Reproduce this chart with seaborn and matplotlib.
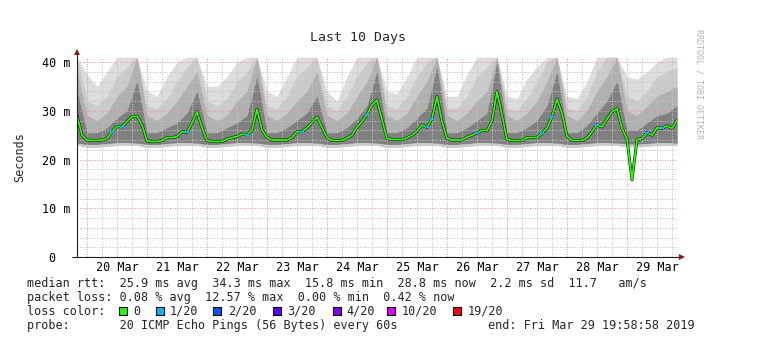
import numpy as np
import pandas as pd
import matplotlib
matplotlib.use("Agg")
import matplotlib.pyplot as plt
import matplotlib.dates as mdates
from matplotlib.ticker import FixedLocator, MultipleLocator, FuncFormatter
from matplotlib.patches import Rectangle
import seaborn as sns

# ---------------- data ----------------
start = pd.Timestamp("2019-03-19 19:58:58")
end = pd.Timestamp("2019-03-29 19:58:58")

# median rtt (ms), one value every 2 hours
median_ms = [
    29.0, 25.0, 24.0, 23.9, 23.9, 24.0, 24.3, 25.7, 26.8, 26.7, 27.8, 28.8,
    28.9, 27.1, 23.8, 23.7, 23.7, 23.9, 24.5, 24.5, 24.7, 25.7, 25.6, 27.5,
    29.8, 26.5, 23.9, 23.7, 23.7, 23.7, 24.2, 24.5, 24.7, 25.2, 25.1, 26.0,
    30.3, 26.0, 24.5, 24.0, 24.0, 24.0, 24.0, 24.5, 25.7, 25.7, 26.5, 27.6,
    28.7, 26.6, 24.5, 23.9, 23.9, 23.9, 24.4, 25.0, 26.6, 27.8, 29.2, 31.2,
    32.2, 28.1, 24.3, 24.1, 24.1, 24.1, 24.4, 25.0, 25.8, 27.1, 26.6, 28.4,
    32.9, 27.8, 24.3, 24.0, 24.0, 24.0, 24.6, 25.0, 25.4, 26.0, 25.9, 27.9,
    33.9, 29.1, 24.1, 23.9, 23.9, 23.9, 24.5, 24.5, 24.5, 25.4, 26.4, 28.8,
    32.4, 29.5, 24.8, 23.9, 23.9, 23.9, 24.4, 25.7, 27.1, 26.7, 28.3, 29.8,
    30.4, 26.4, 24.2, 15.8, 24.1, 24.3, 25.5, 25.0, 26.5, 26.4, 26.9, 26.4,
    28.0,
]
# lost pings (out of 20) for each median sample
loss_pings = [
    0, 0, 0, 0, 0, 0, 0, 1, 0, 1, 0, 0,
    0, 0, 0, 0, 0, 0, 0, 0, 0, 0, 1, 0,
    0, 0, 0, 0, 0, 0, 0, 0, 0, 0, 1, 0,
    0, 0, 0, 0, 0, 0, 0, 0, 0, 1, 0, 0,
    0, 0, 0, 0, 0, 0, 0, 0, 0, 0, 1, 0,
    0, 0, 0, 0, 0, 0, 0, 0, 0, 0, 1, 1,
    0, 0, 0, 0, 0, 0, 0, 0, 1, 0, 0, 0,
    0, 0, 0, 0, 0, 0, 0, 0, 0, 1, 0, 1,
    0, 0, 0, 0, 0, 0, 0, 0, 1, 0, 0, 0,
    0, 0, 0, 0, 0, 0, 1, 0, 0, 1, 0, 0,
    0,
]

# smoke (ping distribution), one value every 4 hours
smoke_min = [
    22.9, 22.5, 22.5, 22.7, 22.9, 22.9,
    22.9, 22.5, 22.5, 22.7, 22.9, 22.9,
    22.9, 22.5, 22.5, 22.7, 22.9, 22.9,
    22.9, 22.5, 22.5, 22.7, 22.9, 22.9,
    22.9, 22.5, 22.5, 22.7, 22.9, 22.9,
    22.9, 22.5, 22.5, 22.7, 22.9, 22.9,
    22.9, 22.5, 22.5, 22.7, 22.9, 22.9,
    22.9, 22.5, 22.5, 22.7, 22.9, 22.9,
    22.9, 22.5, 22.5, 22.7, 22.9, 22.9,
    22.9, 22.6, 22.6, 22.7, 22.9, 22.9,
    22.9,
]
smoke_low = [
    23.4, 23.1, 23.1, 23.3, 23.5, 23.5,
    23.4, 23.1, 23.1, 23.3, 23.5, 23.5,
    23.4, 23.1, 23.1, 23.3, 23.5, 23.5,
    23.4, 23.1, 23.1, 23.3, 23.5, 23.5,
    23.4, 23.1, 23.1, 23.3, 23.5, 23.5,
    23.4, 23.1, 23.1, 23.3, 23.5, 23.5,
    23.4, 23.1, 23.1, 23.3, 23.5, 23.5,
    23.4, 23.1, 23.1, 23.3, 23.5, 23.5,
    23.4, 23.1, 23.1, 23.3, 23.5, 23.5,
    23.4, 23.2, 23.2, 23.3, 23.5, 23.5,
    23.4,
]
smoke_p70 = [
    34, 25.5, 25.5, 26.5, 28.5, 30,
    36, 25.5, 25.5, 26.5, 27.5, 29.5,
    34, 25.5, 25.5, 26.5, 27.5, 29,
    37, 25.5, 25.5, 26.5, 28, 29.5,
    33, 25.5, 25.5, 26.5, 28.5, 31,
    38, 25.5, 25.5, 26.5, 28.5, 30.5,
    39, 25.5, 25.5, 26.5, 28, 29.5,
    40, 25.5, 25.5, 26.5, 28, 31,
    38, 25.5, 25.5, 27, 29.5, 32,
    36, 26, 26, 27.5, 29, 29.5,
    31,
]
smoke_p85 = [
    38, 29, 28, 29.5, 33, 35,
    41, 29, 28, 29.5, 32, 35,
    38, 29, 28, 29, 32, 34,
    41, 29, 28, 29.5, 32, 34,
    38, 29, 28, 29.5, 33, 36,
    41, 29, 28, 29.5, 33, 36,
    41, 29, 28, 29.5, 32, 34,
    41, 29, 28, 29.5, 32, 36,
    41, 29, 28, 30, 34, 37,
    41, 30, 29, 31, 33, 34,
    35,
]
smoke_p95 = [
    41, 32, 31, 33, 37, 39,
    41, 31, 30.5, 32.5, 36, 39,
    41, 32, 31, 32.5, 36, 38,
    41, 31, 30.5, 33, 37, 39,
    41, 31, 30, 33, 37, 40,
    41, 31, 30.5, 33, 37, 40,
    41, 30.5, 30.5, 33, 37, 39,
    41, 30.5, 30, 32.5, 36, 40,
    41, 30.5, 30, 33, 38, 41,
    41, 33, 32, 34, 37, 38,
    39,
]
smoke_max = [
    41, 37.5, 35, 38, 41, 41,
    41, 34, 33, 37, 40, 41,
    41, 35, 35, 37, 40, 41,
    41, 34, 33, 37, 41, 41,
    41, 34, 32, 37, 41, 41,
    41, 34, 33.5, 37, 41, 41,
    41, 33, 33, 37.5, 41, 41,
    41, 33, 32.5, 36.5, 39, 41,
    41, 33, 32.5, 36, 41, 41,
    41, 37, 36.5, 38, 40, 41,
    41,
]

y_ticks = [0, 10, 20, 30, 40]
y_tick_labels = ["0  ", "10 m", "20 m", "30 m", "40 m"]

loss_labels = ["0", "1/20", "2/20", "3/20", "4/20", "10/20", "19/20"]
loss_colors = ["#26ff00", "#00b8ff", "#0059ff", "#5e00ff", "#7e00ff", "#dd00ff", "#ff0000"]
loss_levels = [0, 1, 2, 3, 4, 10, 19]

title = "Last 10 Days"
line_rtt = "median rtt:  25.9 ms avg  34.3 ms max  15.8 ms min  28.8 ms now  2.2 ms sd  11.7   am/s"
line_loss = "packet loss: 0.08 % avg  12.57 % max  0.00 % min  0.42 % now"
line_probe = "probe:       20 ICMP Echo Pings (56 Bytes) every 60s"
line_end = "end: Fri Mar 29 19:58:58 2019"

# ---------------- style ----------------
sns.set_theme(style="white")
plt.rcParams["font.family"] = ["DejaVu Sans Mono", "DejaVu Sans"]

W, H = 773, 344
fig = plt.figure(figsize=(W / 100, H / 100), dpi=100)
fig.patch.set_facecolor("white")
ax = fig.add_axes([77 / W, 1 - 257 / H, 600 / W, 200 / H])
ax.set_facecolor("white")

t_med = pd.date_range(start, periods=len(median_ms), freq="2h")
t_smoke = pd.date_range(start, periods=len(smoke_max), freq="4h")
med = np.array(median_ms)
loss = np.array(loss_pings)

# smoke bands (light -> dark)
ax.fill_between(t_smoke, smoke_min, smoke_max, color="#dddddd", lw=0, zorder=1)
ax.fill_between(t_smoke, smoke_min, smoke_p95, color="#cbcbcb", lw=0, zorder=1.05)
ax.fill_between(t_smoke, smoke_low, smoke_p85, color="#b0b0b0", lw=0, zorder=1.1)
ax.fill_between(t_smoke, smoke_low, smoke_p70, color="#808080", lw=0, zorder=1.2)

# median line
df = pd.DataFrame({"time": t_med, "median": med})
sns.lineplot(data=df, x="time", y="median", color="#151515",
             lw=2.1, ax=ax, zorder=3, estimator=None, sort=False)
sns.lineplot(data=df, x="time", y="median", color=loss_colors[0],
             lw=1.3, ax=ax, zorder=4, estimator=None, sort=False)
for lvl, col in zip(loss_levels[1:], loss_colors[1:]):
    sel = loss == lvl
    if sel.any():
        ax.hlines(med[sel], t_med[sel] - pd.Timedelta("40min"), t_med[sel] + pd.Timedelta("40min"),
                  colors=col, lw=1.6, zorder=5)

# axes limits / ticks
ax.set_xlim(start, end)
ax.set_ylim(0, 41.03)
ax.set_xlabel("")
ax.set_ylabel("")

ax.xaxis.set_major_locator(mdates.DayLocator())
ax.xaxis.set_minor_locator(mdates.HourLocator(byhour=[0, 6, 12, 18]))
ax.xaxis.set_major_formatter(FuncFormatter(lambda v, p: ""))
def minor_fmt(v, p):
    d = mdates.num2date(v)
    return d.strftime("%d Mar") if d.hour == 12 else ""
ax.xaxis.set_minor_formatter(FuncFormatter(minor_fmt))

ax.yaxis.set_major_locator(FixedLocator(y_ticks))
ax.set_yticklabels(y_tick_labels)
ax.yaxis.set_minor_locator(MultipleLocator(2))

ax.tick_params(axis="both", which="both", length=0, labelsize=8.5, colors="black")
ax.tick_params(axis="y", pad=5)
ax.tick_params(axis="x", which="minor", pad=3.2)

ax.set_axisbelow(False)
dot = (0, (1, 1.4))
ax.grid(which="minor", axis="both", color="#c4c4c4", lw=0.75, linestyle=dot)
ax.grid(which="major", axis="both", color="#e79a9a", lw=0.75, linestyle=dot)

for s in ["top", "right"]:
    ax.spines[s].set_visible(False)
for s in ["left", "bottom"]:
    ax.spines[s].set_color("#222222")
    ax.spines[s].set_linewidth(0.8)
    ax.spines[s].set_zorder(6)

# axis extensions and arrows
ax.plot([0, 0], [1, 1 + 5 / 200], transform=ax.transAxes, color="#222222", lw=0.8, clip_on=False, zorder=6)
ax.plot([-5 / 600, 0], [0, 0], transform=ax.transAxes, color="#222222", lw=0.8, clip_on=False, zorder=6)
ax.plot([1, 1 + 3 / 600], [0, 0], transform=ax.transAxes, color="#222222", lw=0.8, clip_on=False, zorder=6)
ax.plot([0], [1 + 5 / 200], marker="^", ms=4.5, color="#8b1a1a", transform=ax.transAxes,
        clip_on=False, zorder=7, mew=0)
ax.plot([1 + 5 / 600], [0], marker=">", ms=4.5, color="#8b1a1a", transform=ax.transAxes,
        clip_on=False, zorder=7, mew=0)

# ---------------- texts ----------------
def fx(x):
    return x / W

def fy(y):
    return 1 - y / H

fig.text(fx(357.5), fy(37.7), title, ha="center", va="center", fontsize=9.5)
fig.text(fx(20), fy(157), "Seconds", rotation=90, ha="center", va="center", fontsize=8.5)
fig.text(fx(698.5), fy(29), "RRDTOOL / TOBI OETIKER", rotation=-90, ha="center", va="top",
         fontsize=6, color="#b4b4b4")

lx = 26.7
fs = 8.5
fig.text(fx(lx), fy(287), line_rtt, ha="left", va="baseline", fontsize=fs)
fig.text(fx(lx), fy(301), line_loss, ha="left", va="baseline", fontsize=fs)
fig.text(fx(lx), fy(314.8), "loss color:", ha="left", va="baseline", fontsize=fs)
box_x = [119, 156, 212.7, 272.7, 332.7, 386.7, 452.7]
lab_x = [133.4, 170, 228, 286.7, 346.7, 401.7, 467.3]
for bx, tx, lab, col in zip(box_x, lab_x, loss_labels, loss_colors):
    fig.add_artist(Rectangle((fx(bx), fy(315)), 8 / W, 8 / H, transform=fig.transFigure,
                             facecolor=col, edgecolor="black", lw=0.8))
    fig.text(fx(tx), fy(314.8), lab, ha="left", va="baseline", fontsize=fs)
fig.text(fx(lx), fy(328.6), line_probe, ha="left", va="baseline", fontsize=fs)
fig.text(fx(488.3), fy(328.6), line_end, ha="left", va="baseline", fontsize=fs)

fig.savefig("out.png", dpi=100, facecolor="white")
